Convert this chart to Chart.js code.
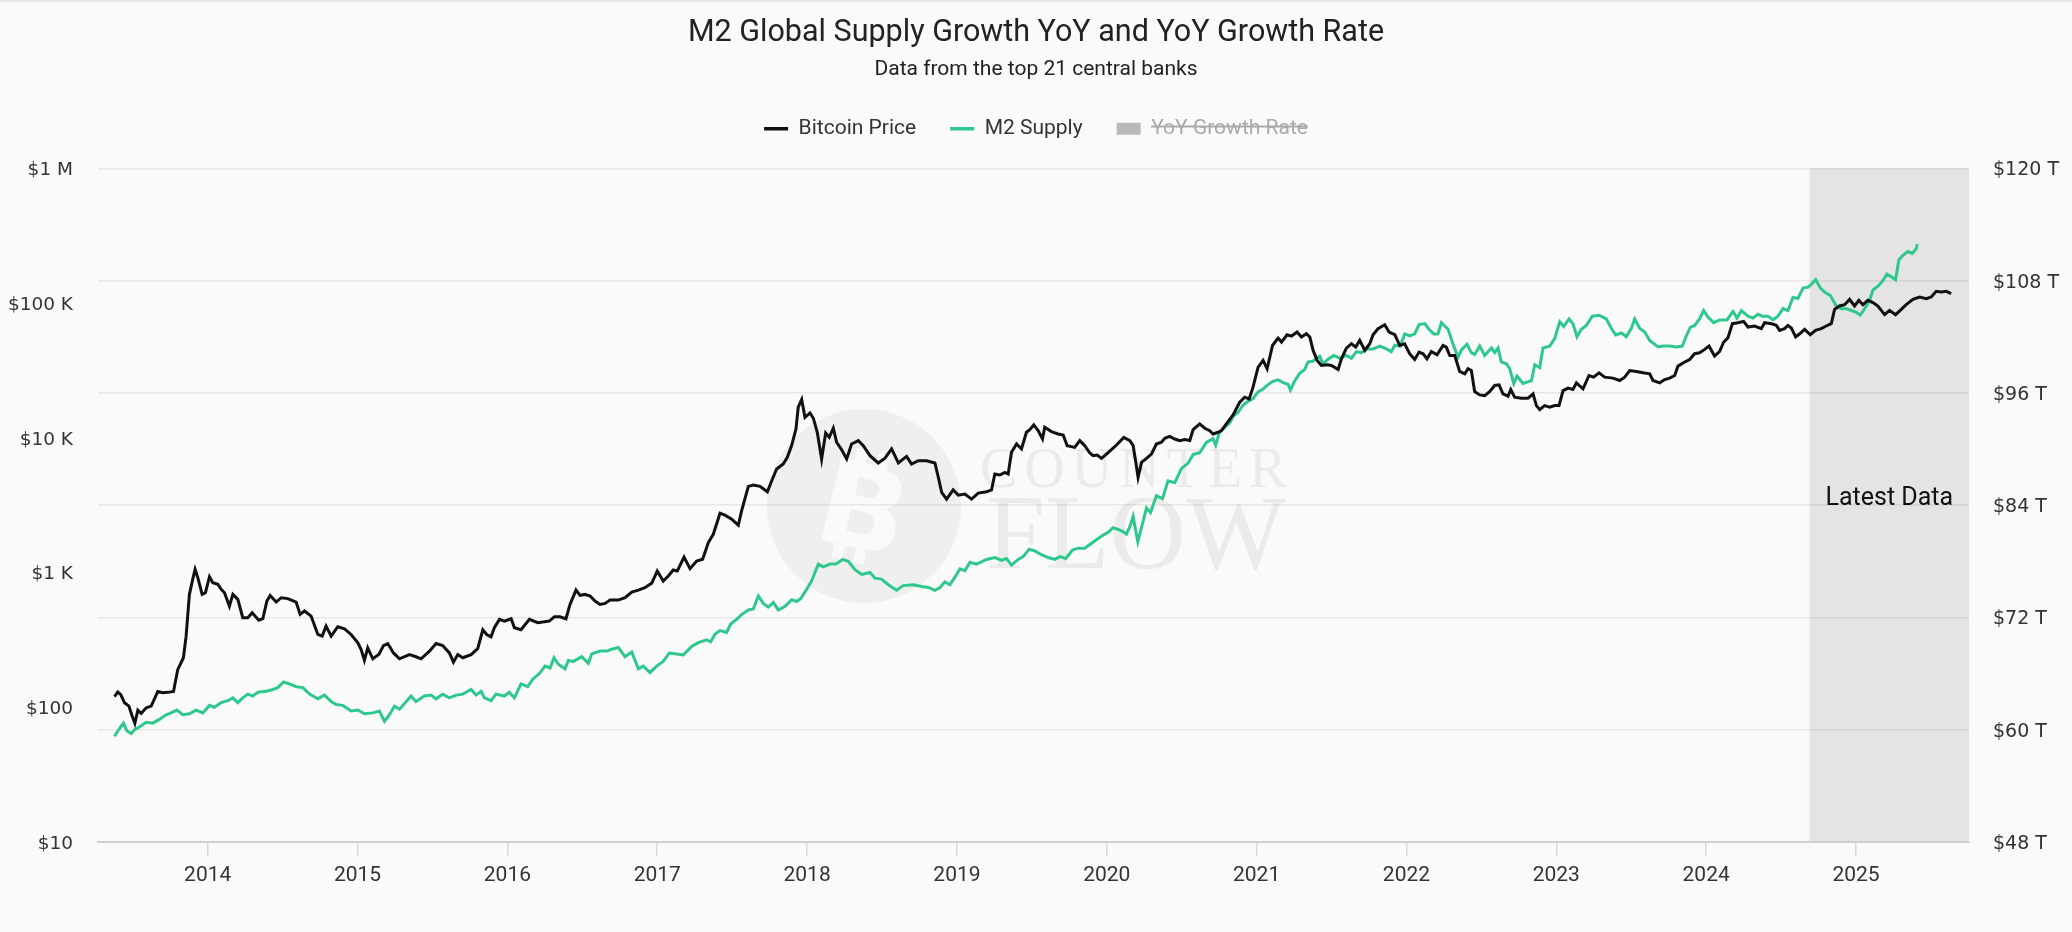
<!DOCTYPE html>
<html>
<head>
<meta charset="utf-8">
<title>M2 Global Supply Growth YoY and YoY Growth Rate</title>
<script src="https://cdn.jsdelivr.net/npm/chart.js@4.4.1/dist/chart.umd.min.js"></script>
<style>
  html, body { margin: 0; padding: 0; background: #fafafa; }
  #chart { display: block; }
</style>
</head>
<body>
<canvas id="chart" width="2072" height="932"></canvas>
<script>
// decimal years
const btcDates = [
  2013.378, 2013.400, 2013.420, 2013.445, 2013.474, 2013.496, 2013.514, 2013.534, 2013.556, 2013.590, 2013.623, 2013.667, 2013.700, 2013.734, 2013.772, 2013.800, 2013.838, 2013.856, 2013.878, 2013.900, 2013.916, 2013.934, 2013.963, 2013.985,
  2014.012, 2014.034, 2014.068, 2014.090, 2014.112, 2014.145, 2014.168, 2014.201, 2014.234, 2014.268, 2014.297, 2014.341, 2014.368, 2014.395, 2014.417, 2014.457, 2014.490, 2014.535, 2014.590, 2014.617, 2014.646, 2014.690, 2014.735, 2014.764, 2014.790, 2014.824, 2014.868, 2014.913, 2014.957,
  2015.002, 2015.024, 2015.046, 2015.068, 2015.102, 2015.142, 2015.173, 2015.202, 2015.240, 2015.280, 2015.346, 2015.390, 2015.424, 2015.480, 2015.524, 2015.568, 2015.613, 2015.640, 2015.669, 2015.702, 2015.758, 2015.802, 2015.836, 2015.862, 2015.891, 2015.913, 2015.947, 2015.980,
  2016.025, 2016.047, 2016.091, 2016.147, 2016.203, 2016.280, 2016.314, 2016.350, 2016.391, 2016.418, 2016.458, 2016.485, 2016.518, 2016.552, 2016.585, 2016.618, 2016.652, 2016.685, 2016.740, 2016.785, 2016.830, 2016.874, 2016.918, 2016.963,
  2017.000, 2017.040, 2017.074, 2017.107, 2017.134, 2017.179, 2017.219, 2017.263, 2017.303, 2017.341, 2017.374, 2017.419, 2017.452, 2017.497, 2017.541, 2017.563, 2017.608, 2017.641, 2017.686, 2017.735, 2017.764, 2017.797, 2017.841, 2017.868, 2017.897, 2017.926, 2017.941, 2017.964, 2017.986,
  2018.019, 2018.042, 2018.068, 2018.097, 2018.124, 2018.148, 2018.175, 2018.197, 2018.230, 2018.264, 2018.297, 2018.342, 2018.375, 2018.420, 2018.475, 2018.520, 2018.564, 2018.609, 2018.664, 2018.697, 2018.742, 2018.798, 2018.853, 2018.876, 2018.898, 2018.931, 2018.975,
  2019.009, 2019.053, 2019.098, 2019.142, 2019.198, 2019.231, 2019.253, 2019.286, 2019.320, 2019.342, 2019.364, 2019.398, 2019.431, 2019.464, 2019.486, 2019.513, 2019.542, 2019.571, 2019.586, 2019.631, 2019.675, 2019.709, 2019.736, 2019.786, 2019.820, 2019.853, 2019.887, 2019.909, 2019.936, 2019.965, 2019.998,
  2020.031, 2020.065, 2020.114, 2020.154, 2020.176, 2020.194, 2020.209, 2020.232, 2020.265, 2020.298, 2020.331, 2020.365, 2020.387, 2020.420, 2020.454, 2020.487, 2020.520, 2020.554, 2020.576, 2020.620, 2020.654, 2020.687, 2020.709, 2020.743, 2020.765, 2020.798, 2020.843, 2020.887, 2020.921, 2020.950, 2020.976,
  2021.010, 2021.043, 2021.070, 2021.106, 2021.143, 2021.166, 2021.203, 2021.233, 2021.270, 2021.299, 2021.332, 2021.355, 2021.377, 2021.404, 2021.432, 2021.470, 2021.499, 2021.544, 2021.566, 2021.599, 2021.633, 2021.661, 2021.688, 2021.722, 2021.755, 2021.777, 2021.810, 2021.855, 2021.884, 2021.922, 2021.955, 2021.988,
  2022.022, 2022.055, 2022.084, 2022.111, 2022.137, 2022.166, 2022.204, 2022.244, 2022.266, 2022.289, 2022.322, 2022.355, 2022.389, 2022.411, 2022.433, 2022.455, 2022.489, 2022.522, 2022.556, 2022.589, 2022.618, 2022.644, 2022.678, 2022.696, 2022.722, 2022.767, 2022.811, 2022.845, 2022.867, 2022.889, 2022.922, 2022.956, 2022.989,
  2023.018, 2023.045, 2023.078, 2023.111, 2023.134, 2023.178, 2023.218, 2023.249, 2023.285, 2023.323, 2023.378, 2023.423, 2023.456, 2023.490, 2023.534, 2023.579, 2023.623, 2023.645, 2023.690, 2023.723, 2023.756, 2023.790, 2023.812, 2023.856, 2023.890, 2023.923, 2023.956, 2023.990,
  2024.019, 2024.056, 2024.090, 2024.117, 2024.145, 2024.175, 2024.212, 2024.250, 2024.279, 2024.323, 2024.368, 2024.390, 2024.435, 2024.468, 2024.490, 2024.523, 2024.546, 2024.568, 2024.597, 2024.624, 2024.657, 2024.695, 2024.730, 2024.768, 2024.801, 2024.835, 2024.857, 2024.890, 2024.924, 2024.957, 2024.990,
  2025.019, 2025.046, 2025.079, 2025.113, 2025.146, 2025.191, 2025.224, 2025.264, 2025.302, 2025.335, 2025.380, 2025.424, 2025.469, 2025.502, 2025.535, 2025.569, 2025.602, 2025.635
];

const btcPrices = [
  120, 130, 124, 108, 102, 86, 76, 95, 90, 99, 102, 131, 128, 129, 131, 190, 233, 337, 689, 889, 1057, 916, 689, 708,
  931, 841, 817, 750, 708, 563, 689, 632, 462, 462, 503, 443, 454, 614, 676, 604, 650, 640, 604, 489, 518, 475, 347, 337, 400, 337, 396, 382, 347,
  301, 268, 223, 276, 229, 246, 287, 297, 253, 229, 246, 237, 229, 261, 297, 287, 253, 216, 246, 233, 246, 272, 376, 347, 333, 389, 449, 436,
  454, 389, 376, 449, 424, 436, 470, 470, 454, 580, 741, 677, 688, 669, 614, 580, 590, 624, 624, 650, 716, 741, 773, 832,
  1026, 865, 942, 1044, 1026, 1303, 1068, 1218, 1254, 1668, 1923, 2755, 2663, 2487, 2244, 2868, 4357, 4457, 4357, 3974, 4800, 5866, 6389, 7163, 8750, 11620, 16860, 19230, 14190,
  15280, 13960, 10990, 6950, 10860, 10090, 11770, 9270, 8170, 6950, 9000, 9530, 8750, 7370, 6500, 7050, 8260, 6500, 7280, 6390, 6760, 6760, 6500, 5080, 3930, 3506, 4110,
  3753, 3817, 3506, 3883, 3974, 4110, 5383, 5290, 5535, 5380, 7800, 8990, 8260, 10990, 11480, 12450, 11290, 9790, 11960, 11110, 10670, 10490, 8730, 8490, 9530, 8730, 7710, 7360, 7450, 7030, 7570,
  8170, 8840, 10070, 9530, 8740, 6560, 5080, 6560, 7030, 7570, 8990, 9270, 9910, 10250, 9790, 9530, 9690, 9530, 11480, 12680, 11770, 11290, 10670, 10990, 11290, 12680, 14790, 18370, 20010, 19430, 23760,
  33500, 37520, 32520, 48420, 54950, 51300, 58170, 56860, 60920, 55940, 59170, 55940, 44500, 37520, 34430, 34860, 34430, 32130, 38570, 46330, 49890, 47130, 52840, 44500, 49890, 58170, 64520, 69070, 60920, 58170, 48420, 49890,
  41980, 38100, 43250, 41980, 38570, 43730, 41300, 48420, 47130, 40830, 40830, 31050, 29850, 32520, 31620, 22040, 20800, 20560, 22040, 24430, 24720, 21180, 20370, 22800, 20010, 19660, 19660, 21180, 17330, 16180, 17330, 16860, 17330,
  17330, 22420, 23350, 22800, 25570, 23070, 28980, 28180, 30340, 28180, 27730, 26610, 28180, 31560, 31050, 30340, 29850, 26610, 25570, 27050, 27730, 28980, 34040, 36480, 38100, 42050, 42760, 45290,
  47970, 40400, 43730, 51380, 55080, 70310, 71450, 73100, 66370, 67560, 64520, 71450, 70310, 68280, 62680, 64520, 68280, 65310, 55970, 59170, 63790, 58170, 62680, 64520, 67560, 70310, 89780, 95070, 97270, 106500, 95070,
  104700, 97270, 104700, 100700, 95070, 81950, 88310, 81950, 89780, 97270, 106500, 110900, 107700, 110900, 122200, 120900, 122200, 117500
];

const m2Dates = [
  2013.378, 2013.410, 2013.438, 2013.460, 2013.490, 2013.512, 2013.545, 2013.590, 2013.634, 2013.678, 2013.723, 2013.756, 2013.794, 2013.834, 2013.878, 2013.923, 2013.968,
  2014.012, 2014.045, 2014.090, 2014.134, 2014.168, 2014.201, 2014.234, 2014.268, 2014.301, 2014.335, 2014.390, 2014.435, 2014.468, 2014.506, 2014.546, 2014.590, 2014.635, 2014.680, 2014.735, 2014.779, 2014.824, 2014.857, 2014.902, 2014.957,
  2015.002, 2015.046, 2015.102, 2015.146, 2015.180, 2015.213, 2015.246, 2015.280, 2015.324, 2015.357, 2015.390, 2015.446, 2015.491, 2015.524, 2015.568, 2015.613, 2015.658, 2015.702, 2015.758, 2015.791, 2015.825, 2015.847, 2015.891, 2015.924, 2015.980,
  2016.013, 2016.047, 2016.091, 2016.136, 2016.169, 2016.214, 2016.251, 2016.285, 2016.311, 2016.340, 2016.385, 2016.407, 2016.440, 2016.496, 2016.540, 2016.563, 2016.618, 2016.663, 2016.696, 2016.740, 2016.785, 2016.830, 2016.874, 2016.907, 2016.952, 2016.996,
  2017.040, 2017.081, 2017.130, 2017.174, 2017.230, 2017.274, 2017.330, 2017.357, 2017.385, 2017.419, 2017.463, 2017.490, 2017.530, 2017.563, 2017.608, 2017.641, 2017.675, 2017.708, 2017.741, 2017.775, 2017.808, 2017.853, 2017.897, 2017.930, 2017.957, 2017.997,
  2018.030, 2018.075, 2018.108, 2018.153, 2018.193, 2018.237, 2018.275, 2018.320, 2018.364, 2018.420, 2018.453, 2018.497, 2018.542, 2018.597, 2018.642, 2018.709, 2018.764, 2018.809, 2018.853, 2018.887, 2018.920, 2018.953, 2018.987,
  2019.020, 2019.053, 2019.087, 2019.131, 2019.198, 2019.253, 2019.298, 2019.331, 2019.364, 2019.409, 2019.442, 2019.482, 2019.520, 2019.564, 2019.609, 2019.653, 2019.687, 2019.727, 2019.771, 2019.809, 2019.853, 2019.887, 2019.931, 2019.976,
  2020.009, 2020.042, 2020.076, 2020.105, 2020.131, 2020.154, 2020.176, 2020.189, 2020.207, 2020.243, 2020.265, 2020.292, 2020.331, 2020.372, 2020.409, 2020.454, 2020.498, 2020.543, 2020.576, 2020.620, 2020.665, 2020.709, 2020.727, 2020.750, 2020.787, 2020.821, 2020.843, 2020.876, 2020.910, 2020.943, 2020.976,
  2021.010, 2021.043, 2021.070, 2021.106, 2021.143, 2021.177, 2021.210, 2021.226, 2021.255, 2021.288, 2021.321, 2021.343, 2021.377, 2021.421, 2021.443, 2021.477, 2021.515, 2021.555, 2021.599, 2021.633, 2021.666, 2021.699, 2021.733, 2021.777, 2021.822, 2021.866, 2021.899, 2021.922, 2021.959, 2021.988,
  2022.022, 2022.055, 2022.084, 2022.122, 2022.150, 2022.182, 2022.210, 2022.233, 2022.278, 2022.311, 2022.344, 2022.367, 2022.404, 2022.433, 2022.455, 2022.489, 2022.522, 2022.567, 2022.589, 2022.611, 2022.633, 2022.667, 2022.689, 2022.716, 2022.738, 2022.778, 2022.834, 2022.856, 2022.889, 2022.911, 2022.956, 2022.989,
  2023.023, 2023.049, 2023.085, 2023.111, 2023.138, 2023.167, 2023.200, 2023.240, 2023.285, 2023.334, 2023.367, 2023.396, 2023.434, 2023.467, 2023.501, 2023.523, 2023.556, 2023.590, 2023.623, 2023.656, 2023.679, 2023.712, 2023.756, 2023.801, 2023.841, 2023.868, 2023.894, 2023.923, 2023.956, 2023.983,
  2024.012, 2024.050, 2024.090, 2024.139, 2024.179, 2024.206, 2024.235, 2024.279, 2024.312, 2024.346, 2024.375, 2024.413, 2024.446, 2024.479, 2024.513, 2024.546, 2024.579, 2024.613, 2024.646, 2024.680, 2024.702, 2024.731, 2024.762, 2024.797, 2024.829, 2024.868, 2024.902, 2024.935, 2024.968,
  2025.002, 2025.028, 2025.050, 2025.073, 2025.091, 2025.113, 2025.146, 2025.175, 2025.207, 2025.235, 2025.264, 2025.286, 2025.313, 2025.346, 2025.375, 2025.402, 2025.409
];

// trillions of USD
const m2Supply = [
  59.3, 60.1, 60.7, 59.9, 59.6, 60.0, 60.3, 60.8, 60.7, 61.1, 61.6, 61.8, 62.1, 61.6, 61.7, 62.1, 61.8,
  62.6, 62.4, 62.9, 63.1, 63.4, 62.9, 63.4, 63.8, 63.6, 64.0, 64.1, 64.3, 64.5, 65.1, 64.9, 64.6, 64.5, 63.8, 63.3, 63.7, 63.0, 62.7, 62.6, 62.0,
  62.1, 61.7, 61.8, 62.0, 60.9, 61.6, 62.5, 62.2, 63.0, 63.6, 63.0, 63.6, 63.7, 63.3, 63.8, 63.4, 63.7, 63.8, 64.3, 63.7, 64.1, 63.4, 63.1, 63.8, 63.6,
  64.0, 63.4, 64.9, 64.6, 65.4, 66.0, 66.8, 66.6, 67.7, 67.0, 66.5, 67.4, 67.3, 67.8, 67.1, 68.1, 68.4, 68.4, 68.6, 68.8, 67.8, 68.3, 66.5, 66.8, 66.1, 66.8,
  67.3, 68.2, 68.1, 68.0, 68.9, 69.3, 69.6, 69.4, 70.2, 70.6, 70.4, 71.3, 71.8, 72.3, 72.8, 72.9, 74.3, 73.5, 73.1, 73.6, 72.8, 73.2, 73.9, 73.7, 74.0, 75.0,
  75.9, 77.7, 77.4, 77.7, 77.7, 78.2, 78.0, 77.1, 76.6, 76.8, 76.2, 76.1, 75.5, 74.9, 75.4, 75.5, 75.3, 75.2, 74.9, 75.2, 75.8, 75.5, 76.3,
  77.2, 77.0, 77.9, 77.7, 78.2, 78.4, 78.1, 78.3, 77.6, 78.2, 78.5, 79.3, 79.1, 78.7, 78.4, 78.2, 78.5, 78.3, 79.2, 79.4, 79.4, 79.8, 80.3, 80.8,
  81.1, 81.6, 81.4, 81.2, 80.9, 81.7, 82.8, 81.6, 80.1, 82.3, 83.7, 83.2, 85.0, 84.7, 86.6, 86.4, 87.9, 88.5, 89.4, 89.6, 90.7, 91.1, 90.4, 91.7, 92.3, 92.8, 93.5, 93.9, 94.7, 95.1, 95.4,
  96.1, 96.4, 96.8, 97.2, 97.4, 97.1, 96.9, 96.3, 97.3, 98.1, 98.5, 99.3, 99.4, 99.9, 99.1, 99.6, 100.0, 99.7, 100.0, 99.7, 100.4, 100.3, 100.7, 100.7, 101.0, 100.7, 100.4, 101.1, 101.0, 102.3,
  102.1, 102.3, 103.3, 103.4, 102.8, 102.3, 102.3, 103.5, 102.8, 101.2, 99.8, 100.6, 101.2, 100.3, 100.1, 101.0, 100.0, 100.8, 100.3, 100.8, 99.3, 99.1, 98.6, 97.0, 97.8, 97.0, 97.3, 99.0, 98.7, 100.8, 101.0, 101.8,
  103.6, 103.1, 103.9, 103.4, 102.0, 102.8, 103.2, 104.2, 104.3, 103.9, 102.9, 102.2, 102.4, 102.0, 102.9, 103.9, 102.9, 102.5, 101.6, 101.2, 100.9, 101.0, 101.0, 100.9, 101.0, 102.1, 103.0, 103.2, 103.9, 104.8,
  104.1, 103.5, 103.8, 103.8, 104.7, 104.0, 104.8, 104.2, 104.0, 104.4, 104.2, 104.2, 103.8, 104.2, 105.0, 104.8, 106.2, 106.1, 107.2, 107.3, 107.6, 108.1, 107.2, 106.7, 106.4, 105.3, 105.0, 105.0, 104.8,
  104.6, 104.3, 104.8, 105.4, 105.9, 107.0, 107.4, 107.9, 108.7, 108.4, 108.1, 110.2, 110.7, 111.1, 110.9, 111.4, 111.9
];

// hidden in the reference, so nothing to read
const yoyGrowth = [];

const yearTicks = [2014, 2015, 2016, 2017, 2018, 2019, 2020, 2021, 2022, 2023, 2024, 2025];
const priceTicks = [10, 100, 1000, 10000, 100000, 1000000];
const supplyTicks = [48, 60, 72, 84, 96, 108, 120];
const latestStart = 2024.69;

const GREEN = '#2ec88c';
const FONT = 'Roboto, "Noto Sans", sans-serif';

function toPoints(xs, ys) {
    return xs.map((x, i) => ({ x, y: ys[i] }));
}

function priceLabel(v) {
    if (v >= 1e6) return '$' + v / 1e6 + ' M';
    if (v >= 1e3) return '$' + v / 1e3 + ' K';
    return '$' + v;
}

// background, grey "latest data" band and the watermark, all under the grid
const backdrop = {
    id: 'backdrop',
    beforeDraw(chart) {
        const { ctx, chartArea: a, scales } = chart;
        ctx.save();
        ctx.fillStyle = '#fafafa';
        ctx.fillRect(0, 0, chart.width, chart.height);
        ctx.fillStyle = '#e6e6e6';
        ctx.fillRect(0, 0, chart.width, 2);

        const x0 = scales.x.getPixelForValue(latestStart);
        ctx.fillStyle = '#e4e4e4';
        ctx.fillRect(x0, a.top, a.right - x0, a.bottom - a.top);

        // watermark
        ctx.fillStyle = '#efefef';
        ctx.beginPath();
        ctx.arc(864, 506, 97, 0, Math.PI * 2);
        ctx.fill();

        ctx.save();
        ctx.translate(864, 507);
        ctx.rotate(0.24);
        ctx.fillStyle = '#fafafa';
        ctx.font = 'bold 116px "DejaVu Sans"';
        ctx.textAlign = 'center';
        ctx.textBaseline = 'alphabetic';
        ctx.fillText('B', 0, 42);
        ctx.fillRect(-20, -56, 11, 14);
        ctx.fillRect(2, -56, 11, 14);
        ctx.fillRect(-20, 42, 11, 14);
        ctx.fillRect(2, 42, 11, 14);
        ctx.restore();

        ctx.fillStyle = '#ebebeb';
        ctx.textAlign = 'left';
        ctx.textBaseline = 'alphabetic';
        ctx.font = '56px "Liberation Serif"';
        ctx.letterSpacing = '7px';
        ctx.fillText('COUNTER', 980, 487);
        ctx.letterSpacing = '0px';
        ctx.font = '106px "Liberation Serif"';
        ctx.fillText('FLOW', 986, 568, 300);

        ctx.fillStyle = '#111';
        ctx.font = '25px ' + FONT;
        ctx.textAlign = 'center';
        ctx.textBaseline = 'middle';
        ctx.fillText('Latest Data', (x0 + a.right) / 2, 499);
        ctx.restore();
    }
};

function legendLabels(chart) {
    const items = Chart.defaults.plugins.legend.labels.generateLabels(chart);
    items.forEach(item => {
        if (item.hidden) {
            item.fontColor = '#aaaaaa';
            item.fillStyle = '#b9b9b9';
            item.strokeStyle = '#b9b9b9';
            item.lineWidth = 0;
        } else {
            item.lineWidth = 3.6;
        }
    });
    return items;
}

function createChart(ctx) {
    return new Chart(ctx, {
        type: 'line',
        data: {
            datasets: [{
                label: 'Bitcoin Price',
                data: toPoints(btcDates, btcPrices),
                borderColor: '#111',
                backgroundColor: '#111',
                borderWidth: 3,
                pointRadius: 0,
                pointStyle: 'line',
                tension: 0,
                xAxisID: 'x',
                yAxisID: 'price'
            }, {
                label: 'M2 Supply',
                data: toPoints(m2Dates, m2Supply),
                borderColor: GREEN,
                backgroundColor: GREEN,
                borderWidth: 3,
                pointRadius: 0,
                pointStyle: 'line',
                tension: 0,
                xAxisID: 'x',
                yAxisID: 'supply'
            }, {
                label: 'YoY Growth Rate',
                data: yoyGrowth,
                hidden: true,
                borderColor: '#b9b9b9',
                backgroundColor: '#b9b9b9',
                pointStyle: 'rect',
                xAxisID: 'x',
                yAxisID: 'supply'
            }]
        },
        options: {
            responsive: false,
            animation: false,
            devicePixelRatio: 1,
            layout: { padding: 0 },
            plugins: {
                title: {
                    display: true,
                    text: 'M2 Global Supply Growth YoY and YoY Growth Rate',
                    color: '#222',
                    font: { family: FONT, size: 30.5, weight: 'normal' },
                    padding: { top: 15, bottom: 0 }
                },
                subtitle: {
                    display: true,
                    text: 'Data from the top 21 central banks',
                    color: '#222',
                    font: { family: FONT, size: 21, weight: 'normal' },
                    padding: { top: 6, bottom: 1.5 }
                },
                legend: {
                    labels: {
                        usePointStyle: true,
                        pointStyleWidth: 24,
                        boxHeight: 12,
                        padding: 34,
                        color: '#333',
                        font: { family: FONT, size: 21 },
                        generateLabels: legendLabels
                    }
                },
                tooltip: { enabled: false }
            },
            scales: {
                x: {
                    type: 'linear',
                    position: 'bottom',
                    min: 2013.268,
                    max: 2025.754,
                    afterBuildTicks: s => { s.ticks = yearTicks.map(v => ({ value: v })); },
                    afterFit: s => { s.height = 90; },
                    ticks: {
                        callback: v => String(v),
                        color: '#333',
                        padding: 7,
                        maxRotation: 0,
                        font: { family: FONT, size: 21 }
                    },
                    grid: { drawOnChartArea: false, tickLength: 14, color: '#d9d9d9', lineWidth: 1.5 },
                    border: { color: '#cfcfcf', width: 2 }
                },
                gap: {
                    type: 'linear',
                    axis: 'x',
                    position: 'top',
                    grid: { display: false },
                    ticks: { display: false },
                    border: { display: false },
                    afterFit: s => { s.height = 19; }
                },
                price: {
                    type: 'logarithmic',
                    position: 'left',
                    min: 10,
                    max: 1000000,
                    afterBuildTicks: s => { s.ticks = priceTicks.map(v => ({ value: v })); },
                    afterFit: s => { s.width = 98; },
                    ticks: {
                        callback: v => priceLabel(v),
                        color: '#333',
                        padding: 17,
                        labelOffset: 2,
                        font: { family: '"DejaVu Sans"', size: 18.5 }
                    },
                    grid: { display: false },
                    border: { display: false }
                },
                supply: {
                    type: 'linear',
                    position: 'right',
                    min: 48,
                    max: 120,
                    afterBuildTicks: s => { s.ticks = supplyTicks.map(v => ({ value: v })); },
                    afterFit: s => { s.width = 103; },
                    ticks: {
                        callback: v => '$' + v + ' T',
                        color: '#333',
                        padding: 24,
                        labelOffset: 2,
                        font: { family: '"DejaVu Sans"', size: 19 }
                    },
                    grid: { color: 'rgba(0,0,0,0.075)', lineWidth: 1.5, drawTicks: false },
                    border: { display: false }
                }
            }
        },
        plugins: [backdrop]
    });
}

createChart(document.getElementById('chart').getContext('2d'));
</script>
</body>
</html>
